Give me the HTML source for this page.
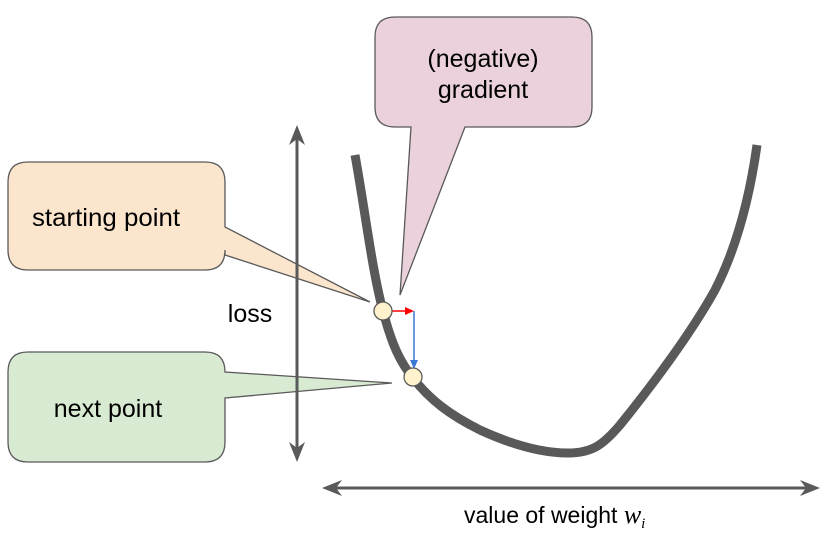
<!DOCTYPE html>
<html><head><meta charset="utf-8"><style>
html,body{margin:0;padding:0;background:#fff;}
svg{display:block;}
text{font-family:"Liberation Sans",Arial,sans-serif;fill:#000;}
</style></head><body>
<svg width="834" height="535" viewBox="0 0 834 535" xmlns="http://www.w3.org/2000/svg">
<!-- callouts -->
<path d="M28,162 H205 Q225,162 225,182 V227 L370,302 L225,255 V250 Q225,270 205,270 H28 Q8,270 8,250 V182 Q8,162 28,162 Z" fill="#fce5cd" stroke="#595959" stroke-width="1.3"/>
<path d="M28,352 H205 Q225,352 225,372 L392,383 L225,398 V442 Q225,462 205,462 H28 Q8,462 8,442 V372 Q8,352 28,352 Z" fill="#d9ead3" stroke="#595959" stroke-width="1.3"/>
<path d="M395,17 H572 Q592,17 592,37 V107 Q592,127 572,127 H465 L400,295 L411,127 H395 Q375,127 375,107 V37 Q375,17 395,17 Z" fill="#ead1dc" stroke="#595959" stroke-width="1.3"/>
<!-- axes -->
<line x1="297" y1="130" x2="297" y2="457" stroke="#595959" stroke-width="3"/>
<path d="M297,125 L289,145 L297,139 L305,145 Z" fill="#595959"/>
<path d="M297,462 L289,442 L297,448 L305,442 Z" fill="#595959"/>
<line x1="327" y1="488" x2="815" y2="488" stroke="#595959" stroke-width="3"/>
<path d="M322,488 L342,480 L336,488 L342,496 Z" fill="#595959"/>
<path d="M820,488 L800,480 L806,488 L800,496 Z" fill="#595959"/>
<!-- curve -->
<path d="M355,155 C365,210 372,270 383,311 C392,345 400,362 413,378 C430,400 450,415 480,430 C515,446 545,453 568,453 C592,453 603,445 620,425 C650,388 690,335 715,290 C738,245 750,195 757,145" fill="none" stroke="#595959" stroke-width="9"/>
<!-- gradient arrows -->
<line x1="392" y1="311" x2="407" y2="311" stroke="#ff0000" stroke-width="1.5"/>
<path d="M414,311 L405,307 L405,315 Z" fill="#ff0000"/>
<line x1="414" y1="311" x2="414" y2="362" stroke="#3c78d8" stroke-width="1.5"/>
<path d="M414,369 L410,360 L418,360 Z" fill="#3c78d8"/>
<circle cx="383" cy="311" r="9" fill="#fff2cc" stroke="#595959" stroke-width="1.3"/>
<circle cx="413" cy="377" r="9" fill="#fff2cc" stroke="#595959" stroke-width="1.3"/>
<!-- labels -->
<text x="106" y="226" font-size="25" text-anchor="middle" textLength="148" lengthAdjust="spacingAndGlyphs">starting point</text>
<text x="108" y="417" font-size="25" text-anchor="middle">next point</text>
<text x="483" y="67" font-size="25" text-anchor="middle">(negative)</text>
<text x="483" y="98" font-size="25" text-anchor="middle">gradient</text>
<text x="250" y="322" font-size="25" text-anchor="middle">loss</text>
<text x="464" y="523" font-size="23">value of weight <tspan font-family="Liberation Serif,serif" font-style="italic" font-size="26">w</tspan><tspan font-family="Liberation Serif,serif" font-style="italic" font-size="15" dy="5">i</tspan></text>
</svg>
</body></html>
